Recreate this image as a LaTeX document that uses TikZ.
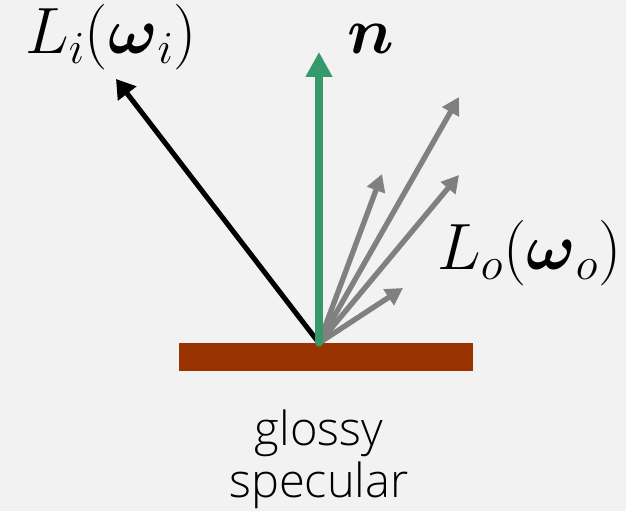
\documentclass[tikz,border=0pt]{standalone}
\usepackage{fix-cm}
\usepackage{amsmath,amssymb}
\usepackage{fontspec}
\setmainfont{Open Sans Light}
\usepackage{xcolor}
\usepackage{tikz}
\usetikzlibrary{arrows.meta}
\definecolor{bgc}{HTML}{F2F2F2}
\definecolor{normc}{HTML}{35996B}
\definecolor{surfc}{HTML}{993300}
\definecolor{outc}{HTML}{808080}
\tikzset{
  inray/.style={-{Triangle[length=4.6mm,width=5.6mm]},line width=3.6pt,black},
  outray/.style={-{Triangle[length=4.3mm,width=4.6mm]},line width=3.8pt,outc,line cap=round},
  nray/.style={-{Triangle[length=6.2mm,width=6.3mm]},line width=5pt,normc,line cap=round},
  mlab/.style={inner sep=0pt,font=\fontsize{46.6}{56}\selectfont},
  tlab/.style={inner sep=0pt,align=center,font=\fontsize{33.4}{37}\selectfont}
}

\begin{document}
\begin{tikzpicture}[x=0.025cm,y=-0.025cm]
\fill[bgc] (0,0) rectangle (626,511);
\useasboundingbox (0,0) rectangle (626,511);
% surface
\fill[surfc] (179,343) rectangle (473,371);
\coordinate (o) at (319,343);
% ray ends
\coordinate (wi) at (116,79);
\coordinate (n) at (319,52);
\coordinate (o1) at (459,97);
\coordinate (o2) at (382,174);
\coordinate (o3) at (459,175);
\coordinate (o4) at (403,288);
\draw[inray] (o)--(wi);
\foreach \t in {o1,o2,o3,o4}
  \draw[outray] (o)--(\t);
\draw[nray] (o)--(n);
% labels
\node[mlab,anchor=base west] (li) at (25,54) {$L_i(\boldsymbol{\omega}_i)$};
\node[mlab,anchor=base west] (nl) at (347,54) {$\boldsymbol{n}$};
\node[mlab,anchor=base west] (lo) at (437,270) {$L_o(\boldsymbol{\omega}_o)$};
\node[tlab,anchor=base] (mat) at (319,498) {glossy\\specular};
\end{tikzpicture}
\end{document}
